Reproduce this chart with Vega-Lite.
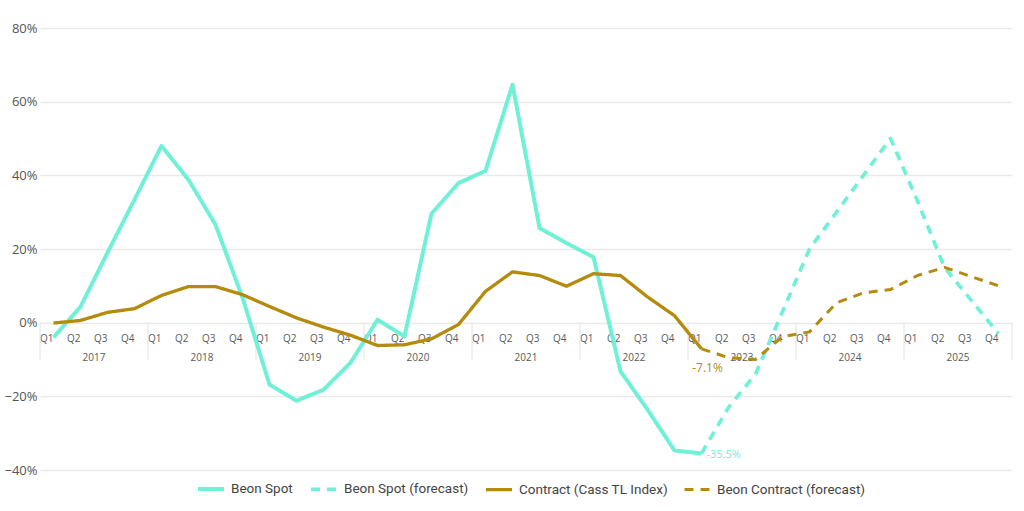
{
  "$schema": "https://vega.github.io/schema/vega-lite/v6.json",
  "width": 972,
  "height": 442,
  "autosize": {"type": "none"},
  "padding": {"left": 40, "top": 28, "right": 12, "bottom": 41},
  "background": "white",
  "config": {
    "view": {"stroke": null},
    "font": "Open Sans",
    "axis": {"grid": true, "gridColor": "#e9e9e9", "gridWidth": 1.5, "domain": false, "ticks": false}
  },
  "datasets": {
    "series": [
      {"period": "2017 Q1", "series": "Beon Spot", "value": -0.04},
      {"period": "2017 Q2", "series": "Beon Spot", "value": 0.043},
      {"period": "2017 Q3", "series": "Beon Spot", "value": 0.19},
      {"period": "2017 Q4", "series": "Beon Spot", "value": 0.334},
      {"period": "2018 Q1", "series": "Beon Spot", "value": 0.48},
      {"period": "2018 Q2", "series": "Beon Spot", "value": 0.388},
      {"period": "2018 Q3", "series": "Beon Spot", "value": 0.266},
      {"period": "2018 Q4", "series": "Beon Spot", "value": 0.068},
      {"period": "2019 Q1", "series": "Beon Spot", "value": -0.168},
      {"period": "2019 Q2", "series": "Beon Spot", "value": -0.212},
      {"period": "2019 Q3", "series": "Beon Spot", "value": -0.182},
      {"period": "2019 Q4", "series": "Beon Spot", "value": -0.109},
      {"period": "2020 Q1", "series": "Beon Spot", "value": 0.008},
      {"period": "2020 Q2", "series": "Beon Spot", "value": -0.037},
      {"period": "2020 Q3", "series": "Beon Spot", "value": 0.296},
      {"period": "2020 Q4", "series": "Beon Spot", "value": 0.379},
      {"period": "2021 Q1", "series": "Beon Spot", "value": 0.412},
      {"period": "2021 Q2", "series": "Beon Spot", "value": 0.646},
      {"period": "2021 Q3", "series": "Beon Spot", "value": 0.257},
      {"period": "2021 Q4", "series": "Beon Spot", "value": 0.216},
      {"period": "2022 Q1", "series": "Beon Spot", "value": 0.178},
      {"period": "2022 Q2", "series": "Beon Spot", "value": -0.132},
      {"period": "2022 Q3", "series": "Beon Spot", "value": -0.236},
      {"period": "2022 Q4", "series": "Beon Spot", "value": -0.347},
      {"period": "2023 Q1", "series": "Beon Spot", "value": -0.355},
      {"period": "2023 Q1", "series": "Beon Spot (forecast)", "value": -0.355},
      {"period": "2023 Q2", "series": "Beon Spot (forecast)", "value": -0.23},
      {"period": "2023 Q3", "series": "Beon Spot (forecast)", "value": -0.14},
      {"period": "2023 Q4", "series": "Beon Spot (forecast)", "value": 0.03},
      {"period": "2024 Q1", "series": "Beon Spot (forecast)", "value": 0.2},
      {"period": "2024 Q2", "series": "Beon Spot (forecast)", "value": 0.3},
      {"period": "2024 Q3", "series": "Beon Spot (forecast)", "value": 0.4},
      {"period": "2024 Q4", "series": "Beon Spot (forecast)", "value": 0.5},
      {"period": "2025 Q1", "series": "Beon Spot (forecast)", "value": 0.33},
      {"period": "2025 Q2", "series": "Beon Spot (forecast)", "value": 0.15},
      {"period": "2025 Q3", "series": "Beon Spot (forecast)", "value": 0.06},
      {"period": "2025 Q4", "series": "Beon Spot (forecast)", "value": -0.03},
      {"period": "2017 Q1", "series": "Contract (Cass TL Index)", "value": -0.001},
      {"period": "2017 Q2", "series": "Contract (Cass TL Index)", "value": 0.006},
      {"period": "2017 Q3", "series": "Contract (Cass TL Index)", "value": 0.028},
      {"period": "2017 Q4", "series": "Contract (Cass TL Index)", "value": 0.038},
      {"period": "2018 Q1", "series": "Contract (Cass TL Index)", "value": 0.074},
      {"period": "2018 Q2", "series": "Contract (Cass TL Index)", "value": 0.098},
      {"period": "2018 Q3", "series": "Contract (Cass TL Index)", "value": 0.098},
      {"period": "2018 Q4", "series": "Contract (Cass TL Index)", "value": 0.076},
      {"period": "2019 Q1", "series": "Contract (Cass TL Index)", "value": 0.044},
      {"period": "2019 Q2", "series": "Contract (Cass TL Index)", "value": 0.013},
      {"period": "2019 Q3", "series": "Contract (Cass TL Index)", "value": -0.012},
      {"period": "2019 Q4", "series": "Contract (Cass TL Index)", "value": -0.034},
      {"period": "2020 Q1", "series": "Contract (Cass TL Index)", "value": -0.062},
      {"period": "2020 Q2", "series": "Contract (Cass TL Index)", "value": -0.06},
      {"period": "2020 Q3", "series": "Contract (Cass TL Index)", "value": -0.044},
      {"period": "2020 Q4", "series": "Contract (Cass TL Index)", "value": -0.005},
      {"period": "2021 Q1", "series": "Contract (Cass TL Index)", "value": 0.085},
      {"period": "2021 Q2", "series": "Contract (Cass TL Index)", "value": 0.138},
      {"period": "2021 Q3", "series": "Contract (Cass TL Index)", "value": 0.128},
      {"period": "2021 Q4", "series": "Contract (Cass TL Index)", "value": 0.099},
      {"period": "2022 Q1", "series": "Contract (Cass TL Index)", "value": 0.133},
      {"period": "2022 Q2", "series": "Contract (Cass TL Index)", "value": 0.128},
      {"period": "2022 Q3", "series": "Contract (Cass TL Index)", "value": 0.07},
      {"period": "2022 Q4", "series": "Contract (Cass TL Index)", "value": 0.019},
      {"period": "2023 Q1", "series": "Contract (Cass TL Index)", "value": -0.071},
      {"period": "2023 Q1", "series": "Beon Contract (forecast)", "value": -0.071},
      {"period": "2023 Q2", "series": "Beon Contract (forecast)", "value": -0.095},
      {"period": "2023 Q3", "series": "Beon Contract (forecast)", "value": -0.1},
      {"period": "2023 Q4", "series": "Beon Contract (forecast)", "value": -0.038},
      {"period": "2024 Q1", "series": "Beon Contract (forecast)", "value": -0.025},
      {"period": "2024 Q2", "series": "Beon Contract (forecast)", "value": 0.054},
      {"period": "2024 Q3", "series": "Beon Contract (forecast)", "value": 0.081},
      {"period": "2024 Q4", "series": "Beon Contract (forecast)", "value": 0.09},
      {"period": "2025 Q1", "series": "Beon Contract (forecast)", "value": 0.128},
      {"period": "2025 Q2", "series": "Beon Contract (forecast)", "value": 0.15},
      {"period": "2025 Q3", "series": "Beon Contract (forecast)", "value": 0.125},
      {"period": "2025 Q4", "series": "Beon Contract (forecast)", "value": 0.1}
    ],
    "years": [
      {"period": "2017 Q1", "mid": "2017 Q2", "year": "2017"},
      {"period": "2018 Q1", "mid": "2018 Q2", "year": "2018"},
      {"period": "2019 Q1", "mid": "2019 Q2", "year": "2019"},
      {"period": "2020 Q1", "mid": "2020 Q2", "year": "2020"},
      {"period": "2021 Q1", "mid": "2021 Q2", "year": "2021"},
      {"period": "2022 Q1", "mid": "2022 Q2", "year": "2022"},
      {"period": "2023 Q1", "mid": "2023 Q2", "year": "2023"},
      {"period": "2024 Q1", "mid": "2024 Q2", "year": "2024"},
      {"period": "2025 Q1", "mid": "2025 Q2", "year": "2025"}
    ],
    "labels": [
      {"period": "2023 Q1", "value": -0.071, "label": "-7.1%", "series": "Contract (Cass TL Index)"},
      {"period": "2023 Q1", "value": -0.355, "label": "-35.5%", "series": "Beon Spot"}
    ]
  },
  "layer": [
    {
      "data": {"name": "years"},
      "mark": {"type": "rule", "color": "#e2e2e2", "strokeWidth": 1},
      "encoding": {
        "x": {"field": "period", "type": "ordinal", "bandPosition": 0,
              "scale": {"type": "band", "paddingInner": 0, "paddingOuter": 0}},
        "y": {"datum": 0, "type": "quantitative"},
        "y2": {"datum": -0.1}
      }
    },
    {
      "data": {"values": [{"period": "2025 Q4"}]},
      "mark": {"type": "rule", "color": "#e2e2e2", "strokeWidth": 1},
      "encoding": {
        "x": {"field": "period", "type": "ordinal", "bandPosition": 1},
        "y": {"datum": 0, "type": "quantitative"},
        "y2": {"datum": -0.1}
      }
    },
    {
      "data": {"name": "years"},
      "mark": {"type": "text", "fontSize": 10, "color": "#595959", "baseline": "middle", "align": "center", "dy": 35},
      "encoding": {
        "x": {"field": "mid", "type": "ordinal", "bandPosition": 1},
        "y": {"datum": 0, "type": "quantitative"},
        "text": {"field": "year"}
      }
    },
    {
      "data": {"name": "series"},
      "mark": {"type": "line", "strokeJoin": "round", "strokeCap": "butt"},
      "encoding": {
        "x": {
          "field": "period", "type": "ordinal", "bandPosition": 0.5, "title": null,
          "scale": {"type": "band", "paddingInner": 0, "paddingOuter": 0,
            "domain": ["2017 Q1","2017 Q2","2017 Q3","2017 Q4","2018 Q1","2018 Q2","2018 Q3","2018 Q4","2019 Q1","2019 Q2","2019 Q3","2019 Q4","2020 Q1","2020 Q2","2020 Q3","2020 Q4","2021 Q1","2021 Q2","2021 Q3","2021 Q4","2022 Q1","2022 Q2","2022 Q3","2022 Q4","2023 Q1","2023 Q2","2023 Q3","2023 Q4","2024 Q1","2024 Q2","2024 Q3","2024 Q4","2025 Q1","2025 Q2","2025 Q3","2025 Q4"]},
          "axis": {"grid": false, "offset": -147.3, "labelExpr": "split(datum.value, ' ')[1]", "labelAngle": 0,
                   "labelFontSize": 10, "labelColor": "#595959", "labelPadding": 16, "labelBaseline": "middle", "labelFont": "Open Sans"}
        },
        "y": {
          "field": "value", "type": "quantitative", "title": null,
          "scale": {"domain": [-0.4, 0.8], "nice": false},
          "axis": {"values": [-0.4, -0.2, 0, 0.2, 0.4, 0.6, 0.8], "format": ".0%", "labelFontSize": 13,
                   "labelColor": "#555555", "labelPadding": 3, "labelFont": "Open Sans"}
        },
        "color": {
          "field": "series", "type": "nominal", "title": null,
          "scale": {"domain": ["Beon Spot", "Beon Spot (forecast)", "Contract (Cass TL Index)", "Beon Contract (forecast)"],
                    "range": ["#70F0D7", "#70F0D7", "#B48B0C", "#B48B0C"]},
          "legend": {"orient": "none", "legendX": 156, "legendY": 446, "direction": "horizontal",
                     "symbolType": "stroke", "symbolSize": 676, "symbolStrokeWidth": 4,
                     "labelFont": "Roboto", "labelFontSize": 13.5, "labelColor": "#444444",
                     "labelOffset": 5, "columnPadding": 10, "padding": 0}
        },
        "strokeDash": {
          "field": "series", "type": "nominal", "title": null,
          "scale": {"domain": ["Beon Spot", "Beon Spot (forecast)", "Contract (Cass TL Index)", "Beon Contract (forecast)"],
                    "range": [[1, 0], [9, 7], [1, 0], [9, 7]]},
          "legend": {"orient": "none", "legendX": 156, "legendY": 446, "direction": "horizontal",
                     "symbolType": "stroke", "symbolSize": 676, "symbolStrokeWidth": 4,
                     "labelFont": "Roboto", "labelFontSize": 13.5, "labelColor": "#444444",
                     "labelOffset": 5, "columnPadding": 10, "padding": 0}
        },
        "strokeWidth": {
          "field": "series", "type": "nominal",
          "scale": {"domain": ["Beon Spot", "Beon Spot (forecast)", "Contract (Cass TL Index)", "Beon Contract (forecast)"],
                    "range": [4, 3, 4.5, 4]},
          "legend": null
        }
      }
    },
    {
      "data": {"name": "labels"},
      "transform": [{"filter": "datum.label == '-7.1%'"}],
      "mark": {"type": "text", "fontSize": 12, "color": "#B48B0C", "align": "center", "baseline": "middle", "dx": 6, "dy": 19},
      "encoding": {
        "x": {"field": "period", "type": "ordinal", "bandPosition": 0.5},
        "y": {"field": "value", "type": "quantitative"},
        "text": {"field": "label"}
      }
    },
    {
      "data": {"name": "labels"},
      "transform": [{"filter": "datum.label == '-35.5%'"}],
      "mark": {"type": "text", "fontSize": 11, "color": "#70F0D7", "align": "left", "baseline": "middle", "dx": 5, "dy": 2},
      "encoding": {
        "x": {"field": "period", "type": "ordinal", "bandPosition": 0.5},
        "y": {"field": "value", "type": "quantitative"},
        "text": {"field": "label"}
      }
    }
  ]
}
